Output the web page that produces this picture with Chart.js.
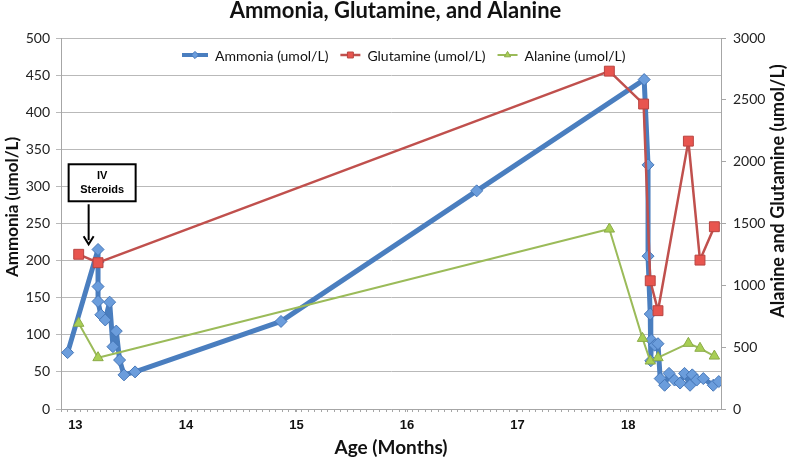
<!DOCTYPE html>
<html>
<head>
<meta charset="utf-8">
<script src="https://cdn.jsdelivr.net/npm/chart.js@4.4.1/dist/chart.umd.min.js"></script>
<style>
  html, body { margin: 0; padding: 0; background: #fff; }
  #wrap { width: 791px; height: 464px; }
</style>
</head>
<body>
<div id="wrap"><canvas id="chart" width="791" height="464"></canvas></div>
<script>
'use strict';

// Age in months (x) and measured values
const ammoniaMonths = [12.93, 13.205, 13.205, 13.205, 13.205, 13.23, 13.27, 13.31, 13.34, 13.37, 13.40, 13.44, 13.54,
  14.86, 16.63, 18.145, 18.18, 18.18, 18.20, 18.205, 18.21, 18.24, 18.27, 18.29, 18.33, 18.37, 18.42, 18.47, 18.51,
  18.56, 18.58, 18.62, 18.68, 18.77, 18.82];
const ammoniaValues = [76, 215, 198, 165, 145, 127, 120, 144, 84, 105, 66, 46, 50,
  118, 294, 444, 329, 206, 128, 65, 93, 86, 88, 41, 32, 48, 39, 35, 48,
  32, 46, 39, 41, 32, 37];

const glutamineMonths = [13.03, 13.205, 17.83, 18.14, 18.20, 18.27, 18.545, 18.65, 18.78];
const glutamineValues = [1251, 1183, 2732, 2466, 1037, 795, 2166, 1204, 1474];

const alanineMonths = [13.03, 13.205, 17.83, 18.13, 18.20, 18.27, 18.545, 18.65, 18.78];
const alanineValues = [693, 415, 1455, 571, 388, 415, 531, 491, 428];

const monthTicks = [13, 14, 15, 16, 17, 18];

const FONT = 'Lato, "Open Sans", sans-serif';
const GRID = '#b9b9b9';
const AXIS = '#a6a6a6';

const toPoints = (xs, ys) => xs.map((x, i) => ({ x, y: ys[i] }));

// "IV Steroids" callout with arrow, anchored on the data scales
const steroidNote = {
  id: 'steroidNote',
  afterDraw(chart) {
    const { ctx, scales } = chart;
    const tipX = scales.x.getPixelForValue(13.12);
    const tipY = scales.y.getPixelForValue(222);
    ctx.save();
    ctx.strokeStyle = '#000';
    ctx.lineWidth = 2;
    ctx.beginPath();
    ctx.moveTo(tipX, tipY - 40);
    ctx.lineTo(tipX, tipY - 4);
    ctx.stroke();
    ctx.beginPath();
    ctx.moveTo(tipX - 5, tipY - 8);
    ctx.lineTo(tipX, tipY);
    ctx.lineTo(tipX + 5, tipY - 8);
    ctx.stroke();
    const bx = tipX - 20, by = tipY - 80, bw = 67, bh = 37;
    ctx.fillStyle = '#fff';
    ctx.fillRect(bx, by, bw, bh);
    ctx.strokeRect(bx, by, bw, bh);
    ctx.fillStyle = '#000';
    ctx.font = 'bold 11px "Liberation Sans", Arial, sans-serif';
    ctx.textAlign = 'center';
    ctx.textBaseline = 'middle';
    ctx.fillText('IV', bx + bw / 2, by + 12);
    ctx.fillText('Steroids', bx + bw / 2, by + 26);
    ctx.restore();
  },
};

// Excel-style legend (line + marker) placed inside the plot
const insideLegend = {
  id: 'insideLegend',
  afterDraw(chart) {
    const { ctx } = chart;
    let x = 182;
    const y = 55;
    ctx.save();
    ctx.font = '14px ' + FONT;
    ctx.textBaseline = 'middle';
    chart.data.datasets.forEach((ds) => {
      const sample = ds.label.startsWith('Ammonia') ? 26 : 20;
      ctx.strokeStyle = ds.borderColor;
      ctx.lineWidth = Math.min(ds.borderWidth, 4);
      ctx.beginPath();
      ctx.moveTo(x, y);
      ctx.lineTo(x + sample, y);
      ctx.stroke();
      ctx.fillStyle = ds.pointBackgroundColor;
      ctx.strokeStyle = ds.pointBorderColor;
      ctx.lineWidth = 1;
      Chart.helpers.drawPoint(ctx, { pointStyle: ds.pointStyle, radius: ds.pointRadius * 0.6, borderWidth: 1 }, x + sample / 2, y);
      ctx.fillStyle = '#111';
      ctx.fillText(ds.label, x + sample + 7, y + 1);
      x += sample + 7 + ctx.measureText(ds.label).width + 12;
    });
    ctx.restore();
  },
};

// vertical axis titles, placed like Excel does (not centred on the plot)
const axisTitles = {
  id: 'axisTitles',
  afterDraw(chart) {
    const { ctx, chartArea } = chart;
    ctx.save();
    ctx.fillStyle = '#111';
    ctx.textAlign = 'center';
    ctx.textBaseline = 'middle';
    ctx.font = 'bold 17px ' + FONT;
    ctx.translate(13, chartArea.top + 169);
    ctx.rotate(-Math.PI / 2);
    ctx.fillText('Ammonia (umol/L)', 0, 0);
    ctx.restore();
    ctx.save();
    ctx.fillStyle = '#111';
    ctx.textAlign = 'center';
    ctx.textBaseline = 'middle';
    ctx.font = 'bold 18px ' + FONT;
    ctx.translate(chart.width - 13, chartArea.top + 153);
    ctx.rotate(-Math.PI / 2);
    ctx.fillText('Alanine and Glutamine (umol/L)', 0, 0);
    ctx.restore();
  },
};

new Chart(document.getElementById('chart'), {
  type: 'line',
  data: {
    datasets: [
      {
        label: 'Ammonia (umol/L)',
        data: toPoints(ammoniaMonths, ammoniaValues),
        yAxisID: 'y',
        borderColor: '#4a7ebf',
        borderWidth: 5,
        borderJoinStyle: 'round',
        pointStyle: 'rectRot',
        pointRadius: 6,
        pointBackgroundColor: '#6b9ddc',
        pointBorderColor: '#4677b8',
        pointBorderWidth: 1,
        order: 3,
      },
      {
        label: 'Glutamine (umol/L)',
        data: toPoints(glutamineMonths, glutamineValues),
        yAxisID: 'y1',
        borderColor: '#c0504d',
        borderWidth: 2.5,
        borderJoinStyle: 'round',
        pointStyle: 'rect',
        pointRadius: 7,
        pointBackgroundColor: '#e8554f',
        pointBorderColor: '#b84440',
        pointBorderWidth: 1,
        order: 2,
      },
      {
        label: 'Alanine (umol/L)',
        data: toPoints(alanineMonths, alanineValues),
        yAxisID: 'y1',
        borderColor: '#9bbb59',
        borderWidth: 2,
        borderJoinStyle: 'round',
        pointStyle: 'triangle',
        pointRadius: 6,
        pointBackgroundColor: '#a9cf55',
        pointBorderColor: '#8bab48',
        pointBorderWidth: 1,
        order: 1,
      },
    ],
  },
  options: {
    responsive: false,
    animation: false,
    devicePixelRatio: 1,
    layout: { padding: 0 },
    elements: { line: { tension: 0 } },
    plugins: {
      legend: { display: false },
      tooltip: { enabled: false },
      title: {
        display: true,
        text: 'Ammonia, Glutamine, and Alanine',
        color: '#111',
        font: { family: FONT, size: 22, weight: 'bold', lineHeight: 1 },
        padding: { top: 0, bottom: 16 },
      },
    },
    scales: {
      x: {
        type: 'linear',
        min: 12.87,
        max: 18.84,
        afterFit: (scale) => { scale.height = 55; },
        afterBuildTicks: (axis) => {
          const ticks = monthTicks.map((v) => ({ value: v }));
          for (let v = axis.min; v <= axis.max; v += 0.0588) ticks.push({ value: v });
          axis.ticks = ticks.sort((a, b) => a.value - b.value);
        },
        ticks: {
          autoSkip: false,
          maxRotation: 0,
          padding: 6,
          color: '#111',
          font: { family: '"Liberation Sans", Arial, sans-serif', size: 13, weight: 'bold' },
          callback: (v) => (monthTicks.includes(v) ? v : ''),
        },
        grid: { drawOnChartArea: false, color: AXIS, tickLength: 3 },
        border: { color: AXIS },
        title: {
          display: true,
          text: 'Age (Months)',
          color: '#111',
          font: { family: FONT, size: 19, weight: 'bold' },
          padding: { bottom: 5 },
        },
      },
      y: {
        position: 'left',
        min: 0,
        max: 500,
        afterFit: (scale) => { scale.width = 61; },
        ticks: { stepSize: 50, padding: 6, color: '#222', font: { family: FONT, size: 14 } },
        grid: { color: GRID, tickLength: 5 },
        border: { color: AXIS },
      },
      y1: {
        position: 'right',
        min: 0,
        max: 3000,
        afterFit: (scale) => { scale.width = 70; },
        ticks: {
          stepSize: 500,
          padding: 7,
          color: '#222',
          font: { family: FONT, size: 14 },
          callback: (v) => String(v),
        },
        grid: { drawOnChartArea: false, color: AXIS, tickLength: 5 },
        border: { color: AXIS },
      },
    },
  },
  plugins: [steroidNote, insideLegend, axisTitles],
});
</script>
</body>
</html>
